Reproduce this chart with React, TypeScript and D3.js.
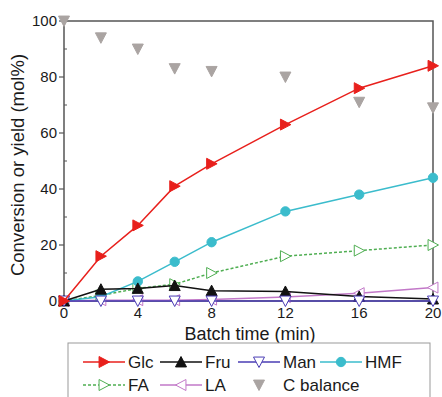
import React from "react";
import * as d3 from "d3";

const times = [0, 2, 4, 6, 8, 12, 16, 20];
const glc = [0, 16, 27, 41, 49, 63, 76, 84];
const fru = [0, 4.2, 4.5, 5.5, 3.7, 3.4, 1.6, 0.7];
const man = [0, 0, 0, 0, 0, 0, 0, 0];
const hmf = [0, 1.5, 7, 14, 21, 32, 38, 44];
const fa = [0, 2, 4.5, 6, 10, 16, 18, 20];
const la = [0, 0.3, 0.3, 0.3, 0.5, 1.4, 2.8, 4.8];
const cbal = [100, 94, 90, 83, 82, 80, 71, 69];
const xTicks = [0, 4, 8, 12, 16, 20];
const yTicks = [0, 20, 40, 60, 80, 100];

type Sym = "right" | "up" | "down" | "left" | "circle";
interface S { name: string; vals: number[]; color: string; sym: Sym; filled: boolean; dash?: string; line: boolean; }

const series: S[] = [
  { name: "LA", vals: la, color: "#c278c8", sym: "left", filled: false, line: true },
  { name: "FA", vals: fa, color: "#4fae52", sym: "right", filled: false, dash: "3,2", line: true },
  { name: "HMF", vals: hmf, color: "#3bbccc", sym: "circle", filled: true, line: true },
  { name: "Fru", vals: fru, color: "#111111", sym: "up", filled: true, line: true },
  { name: "Man", vals: man, color: "#4a3cb4", sym: "down", filled: false, line: true },
  { name: "Glc", vals: glc, color: "#e8201c", sym: "right", filled: true, line: true },
  { name: "C balance", vals: cbal, color: "#aaa4a2", sym: "down", filled: true, line: false },
];

function marker(sym: Sym, r: number): string {
  if (sym === "circle") return "";
  const a = r, b = r * 0.9;
  if (sym === "right") return `M${-b},${-a}L${a},0L${-b},${a}Z`;
  if (sym === "left") return `M${b},${-a}L${-a},0L${b},${a}Z`;
  if (sym === "up") return `M${-a},${b}L0,${-a}L${a},${b}Z`;
  return `M${-a},${-b}L0,${a}L${a},${-b}Z`;
}

function Mark({ s, x, y, r = 5.5 }: { s: S; x: number; y: number; r?: number }) {
  const fill = s.filled ? s.color : "white";
  if (s.sym === "circle")
    return <circle cx={x} cy={y} r={r * 0.85} fill={fill} stroke={s.color} strokeWidth={1} />;
  return <path d={marker(s.sym, r)} transform={`translate(${x},${y})`} fill={fill} stroke={s.color} strokeWidth={1} />;
}

export default function App() {
  const W = 442, H = 397;
  const x = d3.scaleLinear().domain([0, 20]).range([64, 433]);
  const y = d3.scaleLinear().domain([0, 100]).range([301, 21]);
  const font = "Liberation Sans, Arial, sans-serif";
  const order = ["Glc", "Fru", "Man", "HMF", "FA", "LA", "C balance"];
  const legendPos: [number, number][] = [
    [83, 362], [160, 362], [238, 362], [320, 362],
    [83, 385], [160, 385], [238, 385],
  ];
  const minor = d3.range(10, 100, 20);
  return (
    <svg width={W} height={H} style={{ position: "absolute", left: 0, top: 0, background: "white" }} fontFamily={font}>
      <rect x={0} y={0} width={W} height={H} fill="white" />
      <rect x={64} y={21} width={369} height={280} fill="none" stroke="#555" strokeWidth={1.5} />
      {yTicks.map((t) => (
        <g key={"y" + t}>
          <line x1={59} x2={64} y1={y(t)} y2={y(t)} stroke="#555" strokeWidth={1.2} />
          <text x={57} y={y(t) + 5} textAnchor="end" fontSize={15} fill="#1a1a1a">{t}</text>
        </g>
      ))}
      {minor.map((t) => (
        <line key={"m" + t} x1={64} x2={67} y1={y(t)} y2={y(t)} stroke="#555" strokeWidth={1} />
      ))}
      {xTicks.map((t) => (
        <text key={"x" + t} x={x(t)} y={318} textAnchor="middle" fontSize={15} fill="#1a1a1a">{t}</text>
      ))}
      <text x={250} y={340} textAnchor="middle" fontSize={18} fill="#1a1a1a">Batch time (min)</text>
      <text transform="translate(24,165) rotate(-90)" textAnchor="middle" fontSize={18.5} fill="#1a1a1a">Conversion or yield (mol%)</text>
      {series.map((s) => {
        const pts = times.map((t, i) => [x(t), y(s.vals[i])] as [number, number]);
        const line = d3.line()(pts) || "";
        return (
          <g key={s.name}>
            {s.line && <path d={line} fill="none" stroke={s.color} strokeWidth={1.5} strokeDasharray={s.dash} />}
            {pts.map((p, i) => <Mark key={i} s={s} x={p[0]} y={p[1]} />)}
          </g>
        );
      })}
      <rect x={68} y={343} width={362} height={70} fill="white" stroke="#999" strokeWidth={1} />
      {order.map((n, i) => {
        const s = series.find((q) => q.name === n)!;
        const [lx, ly] = legendPos[i];
        return (
          <g key={"l" + n}>
            {s.line && <line x1={lx} x2={lx + 42} y1={ly} y2={ly} stroke={s.color} strokeWidth={1.5} strokeDasharray={s.dash} />}
            <Mark s={s} x={lx + 21} y={ly} />
            <text x={lx + 45} y={ly + 6} fontSize={17} fill="#1a1a1a">{n}</text>
          </g>
        );
      })}
    </svg>
  );
}
